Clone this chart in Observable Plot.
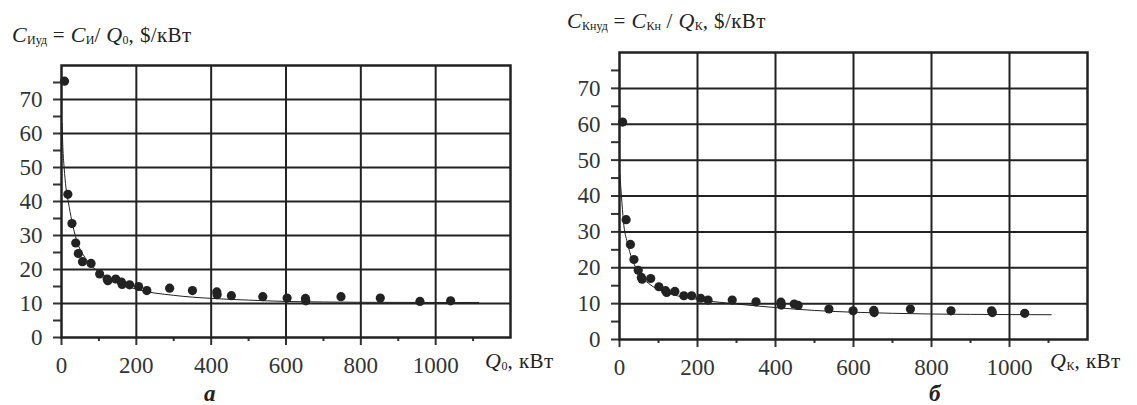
<!DOCTYPE html>
<html>
<head>
<meta charset="utf-8">
<script src="https://cdn.jsdelivr.net/npm/d3@7"></script>
<script src="https://cdn.jsdelivr.net/npm/@observablehq/plot@0.6"></script>
<style>
  html, body { margin: 0; padding: 0; background: #fff; }
  #wrap { position: relative; width: 1137px; height: 405px; color: #222; overflow: hidden; font-family: "Liberation Serif", serif; }
  .panel { position: absolute; top: 0; }
  .lbl { position: absolute; white-space: nowrap; line-height: 20px; }
  .title { font-size: 21px; letter-spacing: 0.4px; }
  .title i, .axl i { font-size: 22px; }
  sub { font-size: 12px; vertical-align: -0.2em; line-height: 0; letter-spacing: 0; }
  .axl { font-size: 21px; letter-spacing: 0.5px; }
  .let { font-size: 23px; font-weight: bold; font-style: italic; line-height: 20px; }
</style>
</head>
<body>
<div id="wrap">
  <div id="left" class="panel" style="left:0px"></div>
  <div id="right" class="panel" style="left:560px"></div>
  <div class="lbl title" style="left:12px; top:25px;"><i>C</i><sub>Иуд</sub> = <i>C</i><sub>И</sub>/ <i>Q</i><sub>0</sub>, $/кВт</div>
  <div class="lbl title" style="left:567px; top:11px;"><i>C</i><sub>Кнуд</sub> = <i>C</i><sub>Кн</sub> / <i>Q</i><sub>К</sub>, $/кВт</div>
  <div class="lbl axl" style="left:485px; top:351px;"><i>Q</i><sub>0</sub>, кВт</div>
  <div class="lbl axl" style="left:1050px; top:351px;"><i>Q</i><sub>К</sub>, кВт</div>
  <div class="lbl let" style="left:204px; top:384px;">а</div>
  <div class="lbl let" style="left:929px; top:384px;">б</div>
</div>
<script>
// ---- data ----
const xMajorTicks = [0, 200, 400, 600, 800, 1000];
const xMinorTicks = [100, 300, 500, 700, 900, 1100];
const xGridLines = [200, 400, 600, 800, 1000];
const yMajorTicks = [0, 10, 20, 30, 40, 50, 60, 70];
const yMinorTicks = [5, 15, 25, 35, 45, 55, 65, 75];
const yGridLines = [10, 20, 30, 40, 50, 60, 70];

// panel а: measured points
const leftQ = [8, 17, 28, 38, 45, 56, 79, 102, 122, 124, 145, 160, 162, 182, 206, 228, 289, 350, 415, 416, 454, 538, 603, 652, 653, 747, 852, 958, 1040];
const leftC = [75.4, 42.1, 33.5, 27.8, 24.7, 22.3, 21.8, 18.7, 17.2, 16.7, 17.2, 16.3, 15.6, 15.5, 15.0, 13.8, 14.5, 13.8, 13.4, 12.6, 12.3, 12.0, 11.6, 11.5, 10.8, 12.0, 11.6, 10.6, 10.8];
// panel а: trend curve
const leftCurveQ = [1.5, 4, 7, 12, 18, 27.6, 41, 63, 90, 126, 200, 300, 400, 500, 600, 700, 800, 1000, 1115];
const leftCurveC = [63, 55, 50, 44, 40, 34.3, 28.4, 23.5, 20.1, 17.5, 14.2, 12.4, 11.5, 11.0, 10.6, 10.45, 10.35, 10.3, 10.3];

// panel б: measured points
const rightQ = [8, 17, 28, 37, 48, 56, 58, 80, 101, 118, 121, 142, 165, 185, 208, 227, 289, 350, 414, 415, 448, 458, 537, 599, 652, 653, 746, 850, 954, 956, 1039];
const rightC = [60.6, 33.4, 26.5, 22.3, 19.3, 17.3, 16.8, 17.0, 14.7, 13.6, 13.1, 13.4, 12.2, 12.2, 11.5, 11.0, 11.0, 10.5, 10.4, 9.6, 9.9, 9.5, 8.5, 8.0, 8.1, 7.5, 8.5, 8.0, 8.0, 7.5, 7.3];
// panel б: trend curve
const rightCurveQ = [1, 5, 10, 20, 32, 50, 75, 118, 200, 300, 400, 500, 600, 700, 800, 1000, 1107];
const rightCurveC = [46, 40, 33, 27, 22.5, 18.5, 15.6, 13.2, 11.2, 9.9, 8.9, 8.1, 7.6, 7.3, 7.1, 6.95, 6.9];

const ink = "#222";
const fmt = d3.format("d");

function panel(xs, ys, cx, cy, opts) {
  const pts = xs.map((x, i) => ({x, y: ys[i]}));
  const crv = cx.map((x, i) => ({x, y: cy[i]}));
  return Plot.plot({
    width: opts.width,
    height: 405,
    marginLeft: opts.ml,
    marginRight: opts.mr,
    marginTop: opts.mt,
    marginBottom: opts.mb,
    style: {fontFamily: "Liberation Serif", fontSize: "23px", color: "#333", background: "transparent", overflow: "visible"},
    x: {domain: [0, 1200]},
    y: {domain: [0, 80]},
    marks: [
      Plot.ruleX(xGridLines, {stroke: ink, strokeWidth: 2}),
      Plot.ruleY(yGridLines, {stroke: ink, strokeWidth: 2}),
      Plot.axisX({ticks: xMajorTicks, tickSize: 8, tickPadding: 11, tickFormat: fmt, label: null, strokeWidth: 2, fontSize: 23}),
      Plot.axisX({ticks: xMinorTicks, tickSize: 4, text: null, label: null, strokeWidth: 2}),
      Plot.axisY({ticks: yMajorTicks, tickSize: 8, tickPadding: 11, tickFormat: fmt, label: null, strokeWidth: 2, fontSize: 23}),
      Plot.axisY({ticks: yMinorTicks, tickSize: 8, text: null, label: null, strokeWidth: 2}),
      Plot.frame({stroke: ink, strokeWidth: 2.5}),
      Plot.line(crv, {x: "x", y: "y", curve: "monotone-x", stroke: ink, strokeWidth: 1}),
      Plot.dot(pts, {x: "x", y: "y", r: 4.6, fill: ink, stroke: null})
    ]
  });
}

document.getElementById("left").appendChild(
  panel(leftQ, leftC, leftCurveQ, leftCurveC, {width: 560, ml: 61, mr: 50, mt: 65, mb: 68})
);
document.getElementById("right").appendChild(
  panel(rightQ, rightC, rightCurveQ, rightCurveC, {width: 577, ml: 59, mr: 50, mt: 52, mb: 66})
);
</script>
</body>
</html>
